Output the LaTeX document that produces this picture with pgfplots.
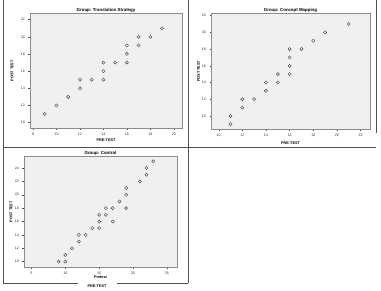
\documentclass[border=0pt]{standalone}
\usepackage{fontspec}
\setmainfont{Liberation Sans}
\usepackage{pgfplots}
\pgfplotsset{compat=1.18}

\definecolor{plotbg}{HTML}{F0F0F0}
\definecolor{framegray}{HTML}{8C8C8C}
\definecolor{markgray}{HTML}{3C3C3C}
\definecolor{rulegray}{HTML}{505050}

\pgfplotsset{
  spss/.style={
    scale only axis,
    anchor=south west,
    axis background/.style={fill=plotbg},
    axis line style={draw=framegray, line width=0.5pt},
    tick style={draw=black!70, line width=0.3pt},
    tick align=outside,
    major tick length=1.5pt,
    xtick pos=bottom, ytick pos=left,
    tick label style={font=\fontsize{3.6}{4}\selectfont, text=black!80},
    /pgf/number format/assume math mode=true,
    every axis title/.style={at={(0.5,1)}, anchor=center, yshift=3.2pt,
      font=\bfseries\fontsize{4.4}{5}\selectfont},
  },
  ylab/.style={every axis y label/.style={at={(#1,0.5)}, anchor=center,
      rotate=90, font=\bfseries\fontsize{3.8}{4.5}\selectfont}},
  xlab/.style={every axis x label/.style={at={(0.5,#1)}, anchor=center,
      font=\bfseries\fontsize{3.8}{4.5}\selectfont}},
  pts/.style={only marks, mark=o, mark size=1.6pt,
    mark options={draw=markgray, line width=0.4pt}},
}

\begin{document}
\begin{tikzpicture}
  % canvas
  \path[fill=white] (0pt,0pt) rectangle (381pt,290pt);

  % table rules between the panels
  \begin{scope}[rulegray, line width=0.6pt]
    \draw (3pt,290pt) -- (3pt,7pt);
    \draw (188pt,290pt) -- (188pt,7pt);
    \draw (376pt,290pt) -- (376pt,157pt);
    \draw (3pt,143pt) -- (376pt,143pt);
    \draw (3pt,7pt) -- (78pt,7pt);
    \draw (117pt,7pt) -- (188pt,7pt);
  \end{scope}
  \node[font=\bfseries\fontsize{3.8}{4.5}\selectfont] at (97pt,4.5pt) {PRE-TEST};

  % Translation Strategy group
  \begin{axis}[spss, at={(30pt,162pt)}, width=152pt, height=115pt,
      title={Group: Translation Strategy},
      xmin=7.74, xmax=20.7, ymin=9.34, ymax=22.74,
      xtick={8,10,...,20}, ytick={10,12,...,22},
      xlab=-0.104, ylab=-0.118,
      xlabel={PRE-TEST}, ylabel={POST TEST}]
    \addplot[pts] coordinates {
      (9,11) (10,12) (11,13) (12,14) (12,15) (13,15) (14,15) (14,16)
      (14,17) (15,17) (16,17) (16,18) (16,19) (17,19) (17,20) (18,20)
      (19,21)};
  \end{axis}

  % Concept Mapping group
  \begin{axis}[spss, at={(211pt,161pt)}, width=159pt, height=116pt,
      title={Group: Concept Mapping},
      xmin=9.35, xmax=22.8, ymin=8.4, ymax=22.28,
      xtick={10,12,...,22}, ytick={10,12,...,22},
      xlab=-0.12, ylab=-0.078,
      xlabel={PRE-TEST}, ylabel={POST TEST}]
    \addplot[pts] coordinates {
      (11,10) (11,9) (12,12) (12,11) (13,12) (14,13) (14,14) (15,14)
      (15,15) (16,15) (16,16) (16,17) (16,18) (17,18) (18,19) (19,20)
      (21,21)};
  \end{axis}

  % Control group
  \begin{axis}[spss, at={(24pt,23pt)}, width=153pt, height=111pt,
      title={Group: Control},
      xmin=3.9, xmax=26.5, ymin=9.15, ymax=25.75,
      xtick={5,10,...,25}, ytick={10,12,...,24},
      xlab=-0.09, ylab=-0.085,
      xlabel={Pretest}, ylabel={POST TEST}]
    \addplot[pts] coordinates {
      (9,10) (10,10) (10,11) (11,12) (12,13) (12,14) (13,14) (14,15)
      (15,15) (15,16) (15,17) (16,17) (16,18) (17,18) (17,16) (18,19)
      (19,18) (19,20) (19,21) (21,22) (22,23) (22,24) (23,25)};
  \end{axis}
\end{tikzpicture}
\end{document}
